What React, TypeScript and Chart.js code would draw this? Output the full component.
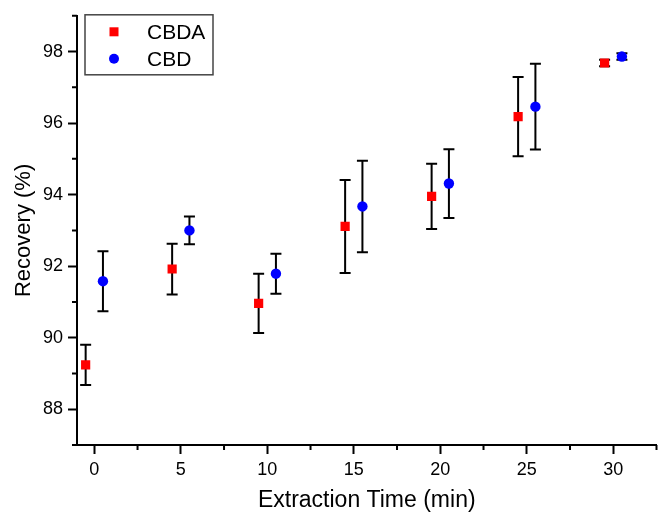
import React, { useEffect, useRef } from 'react';
import Chart from 'chart.js/auto';

const timesCBDA = [-0.5, 4.5, 9.5, 14.5, 19.5, 24.5, 29.5];
const recoveryCBDA = [89.24, 91.92, 90.96, 93.11, 93.95, 96.18, 97.68];
const errorCBDA = [0.56, 0.71, 0.83, 1.3, 0.91, 1.11, 0.09];

const timesCBD = [0.5, 5.5, 10.5, 15.5, 20.5, 25.5, 30.5];
const recoveryCBD = [91.58, 93.0, 91.79, 93.67, 94.31, 96.46, 97.86];
const errorCBD = [0.84, 0.39, 0.56, 1.28, 0.96, 1.2, 0.09];

const xMajorTicks = [0, 5, 10, 15, 20, 25, 30];
const xMinorTicks = [2.5, 7.5, 12.5, 17.5, 22.5, 27.5, 32.5];
const yMajorTicks = [88, 90, 92, 94, 96, 98];
const yMinorTicks = [87, 89, 91, 93, 95, 97, 99];

const FONT = "'Liberation Sans', Arial, sans-serif";

const errorBarsPlugin = {
  id: 'errorBars',
  beforeDatasetsDraw(chart: any) {
    const { ctx, scales } = chart;
    const xs = scales.x;
    const ys = scales.y;
    ctx.save();
    ctx.strokeStyle = '#000';
    ctx.lineWidth = 2;
    chart.data.datasets.forEach((ds: any) => {
      ds.data.forEach((p: any, i: number) => {
        const e = ds.errors[i];
        const x = xs.getPixelForValue(p.x);
        const yt = ys.getPixelForValue(p.y + e);
        const yb = ys.getPixelForValue(p.y - e);
        const cap = 5.5;
        ctx.beginPath();
        ctx.moveTo(x, yt);
        ctx.lineTo(x, yb);
        ctx.moveTo(x - cap, yt);
        ctx.lineTo(x + cap, yt);
        ctx.moveTo(x - cap, yb);
        ctx.lineTo(x + cap, yb);
        ctx.stroke();
      });
    });
    ctx.restore();
  },
};

const minorTicksPlugin = {
  id: 'minorTicks',
  afterDraw(chart: any) {
    const { ctx, scales, chartArea } = chart;
    ctx.save();
    ctx.strokeStyle = '#000';
    ctx.lineWidth = 2;
    ctx.beginPath();
    yMinorTicks.forEach((v) => {
      const y = scales.y.getPixelForValue(v);
      ctx.moveTo(chartArea.left - 5, y);
      ctx.lineTo(chartArea.left, y);
    });
    xMinorTicks.forEach((v) => {
      const x = scales.x.getPixelForValue(v);
      ctx.moveTo(x, chartArea.bottom);
      ctx.lineTo(x, chartArea.bottom + 5);
    });
    ctx.stroke();
    ctx.restore();
  },
};

const legendBoxPlugin = {
  id: 'legendBox',
  afterDraw(chart: any) {
    const { ctx, chartArea } = chart;
    const left = chartArea.left + 8;
    const top = chartArea.top - 1;
    const w = 128;
    const h = 60;
    ctx.save();
    ctx.fillStyle = '#fff';
    ctx.fillRect(left, top, w, h);
    ctx.strokeStyle = '#444';
    ctx.lineWidth = 1.5;
    ctx.strokeRect(left, top, w, h);
    ctx.font = `21px ${FONT}`;
    ctx.textBaseline = 'middle';
    chart.data.datasets.forEach((ds: any, i: number) => {
      const cy = top + 17 + i * 27;
      const cx = left + 29;
      ctx.fillStyle = ds.backgroundColor;
      if (ds.pointStyle === 'rect') {
        ctx.fillRect(cx - 4.5, cy - 4.5, 9, 9);
      } else {
        ctx.beginPath();
        ctx.arc(cx, cy, 5, 0, Math.PI * 2);
        ctx.fill();
      }
      ctx.fillStyle = '#000';
      ctx.fillText(ds.label, left + 62, cy + 1);
    });
    ctx.restore();
  },
};

export default function App() {
  const ref = useRef<HTMLCanvasElement | null>(null);

  useEffect(() => {
    if (!ref.current) return;
    const chart = new Chart(ref.current, {
      type: 'scatter',
      data: {
        datasets: [
          {
            label: 'CBDA',
            data: timesCBDA.map((x, i) => ({ x, y: recoveryCBDA[i] })),
            errors: errorCBDA,
            pointStyle: 'rect',
            pointRadius: 6.5,
            pointHoverRadius: 6.5,
            backgroundColor: '#ff0000',
            borderColor: '#ff0000',
            borderWidth: 0,
          } as any,
          {
            label: 'CBD',
            data: timesCBD.map((x, i) => ({ x, y: recoveryCBD[i] })),
            errors: errorCBD,
            pointStyle: 'circle',
            pointRadius: 5.2,
            pointHoverRadius: 5.2,
            backgroundColor: '#0000ff',
            borderColor: '#0000ff',
            borderWidth: 0,
          } as any,
        ],
      },
      options: {
        animation: false,
        responsive: false,
        devicePixelRatio: 1,
        layout: { padding: { top: 15, right: 0, left: 0, bottom: 0 } },
        plugins: {
          legend: { display: false },
          tooltip: { enabled: false },
        },
        scales: {
          x: {
            type: 'linear',
            min: -1,
            max: 32.5,
            afterBuildTicks: (scale: any) => {
              scale.ticks = xMajorTicks.map((v) => ({ value: v }));
            },
            afterFit: (scale: any) => {
              scale.height = 69;
            },
            ticks: {
              autoSkip: false,
              maxRotation: 0,
              padding: 5,
              color: '#000',
              font: { family: FONT, size: 18 },
            },
            grid: {
              display: true,
              drawOnChartArea: false,
              drawTicks: true,
              tickLength: 9,
              tickWidth: 2,
              tickColor: '#000',
            },
            border: { display: true, color: '#000', width: 2 },
            title: {
              display: true,
              text: 'Extraction Time (min)',
              color: '#000',
              font: { family: FONT, size: 23 },
              padding: { top: 0, bottom: 0 },
            },
          },
          y: {
            type: 'linear',
            min: 87,
            max: 99,
            afterBuildTicks: (scale: any) => {
              scale.ticks = yMajorTicks.map((v) => ({ value: v }));
            },
            afterFit: (scale: any) => {
              scale.width = 77;
            },
            ticks: {
              autoSkip: false,
              padding: 5,
              color: '#000',
              font: { family: FONT, size: 18 },
            },
            grid: {
              display: true,
              drawOnChartArea: false,
              drawTicks: true,
              tickLength: 9,
              tickWidth: 2,
              tickColor: '#000',
            },
            border: { display: true, color: '#000', width: 2 },
            title: {
              display: true,
              text: 'Recovery (%)',
              color: '#000',
              font: { family: FONT, size: 22 },
              padding: { top: 11, bottom: 0 },
            },
          },
        },
      },
      plugins: [errorBarsPlugin, minorTicksPlugin, legendBoxPlugin],
    });
    return () => chart.destroy();
  }, []);

  return (
    <div style={{ position: 'fixed', left: 0, top: 0, width: 663, height: 514, background: '#fff' }}>
      <canvas ref={ref} width={663} height={514} style={{ display: 'block' }} />
    </div>
  );
}
